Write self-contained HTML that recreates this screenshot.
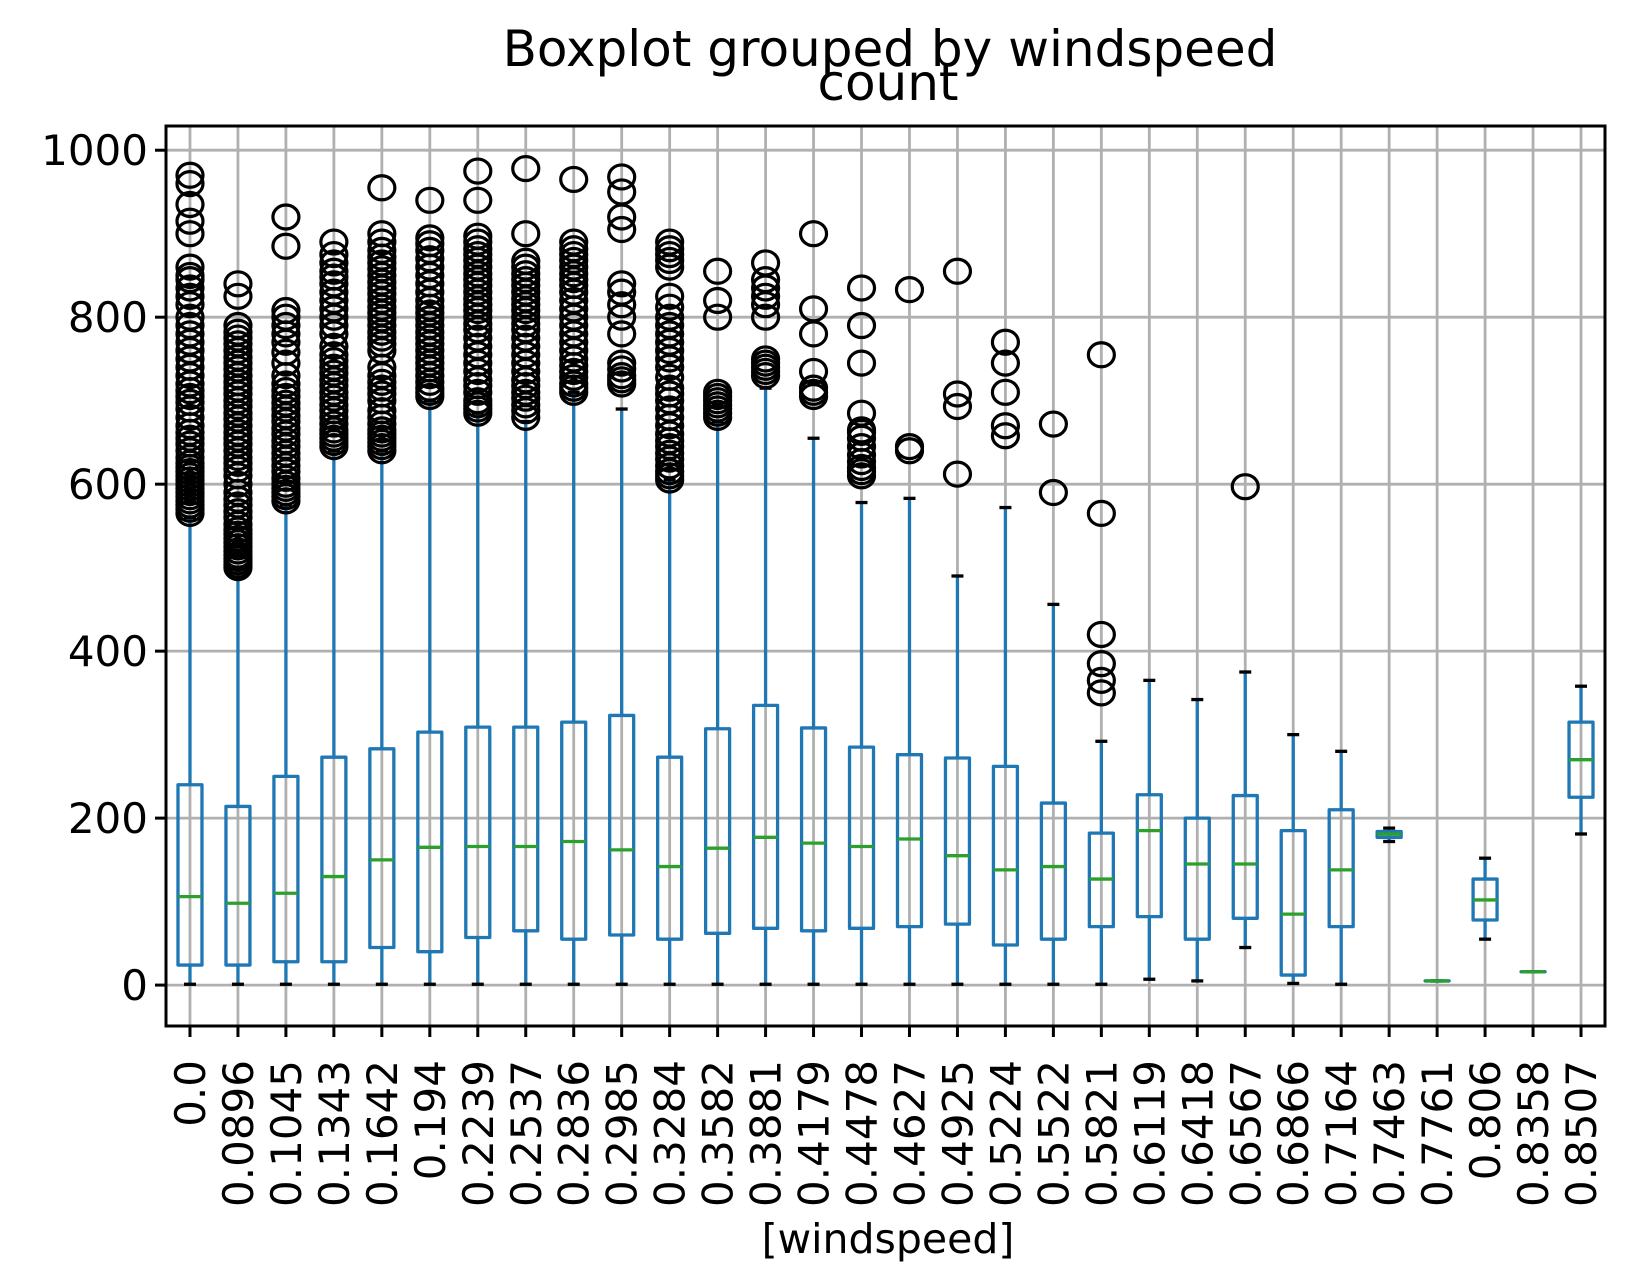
<!DOCTYPE html>
<html><head><meta charset="utf-8"><style>
html,body{margin:0;padding:0;background:#fff}
svg{display:block}
text{font-family:"DejaVu Sans","Liberation Sans",sans-serif;fill:#000}
</style></head><body>
<svg id="chart" width="1635" height="1287" viewBox="0 0 1635 1287" xmlns="http://www.w3.org/2000/svg">
<rect x="0" y="0" width="1635" height="1287" fill="#fff"/>
<g id="grid"></g>
<g id="boxes"></g>
<g id="axes"></g>
<text x="890" y="66" font-size="50" text-anchor="middle">Boxplot grouped by windspeed</text>
<text x="888" y="100" font-size="50" text-anchor="middle">count</text>
<text x="888" y="1253" font-size="41" text-anchor="middle">[windspeed]</text>
</svg>
<script>
const categories=["0.0","0.0896","0.1045","0.1343","0.1642","0.194","0.2239","0.2537","0.2836","0.2985","0.3284","0.3582","0.3881","0.4179","0.4478","0.4627","0.4925","0.5224","0.5522","0.5821","0.6119","0.6418","0.6567","0.6866","0.7164","0.7463","0.7761","0.806","0.8358","0.8507"];
const q1=[24,24,28,28,45,40,57,65,55,60,55,62,68,65,68,70,73,48,55,70,82,55,80,12,70,177,5,78,16,225];
const med=[106,98,110,130,150,165,166,166,172,162,142,164,177,170,166,175,155,138,142,127,185,145,145,85,138,181,5,102,16,270];
const q3=[240,214,250,273,283,303,309,309,315,323,273,307,335,308,285,276,272,262,218,182,228,200,227,185,210,184,5,127,16,315];
const whisLo=[1,1,1,1,1,1,1,1,1,1,1,1,1,1,1,1,1,1,1,1,7,5,45,2,1,172,5,55,16,181];
const whisHi=[560,500,575,640,640,700,685,675,710,690,605,675,715,655,578,583,490,572,456,292,365,342,375,300,280,188,5,152,16,358];
const outliers=[
[565,570,575,580,585,590,595,600,605,610,615,620,625,632,640,648,655,662,670,680,690,698,705,712,720,730,740,750,760,770,780,790,800,815,825,835,845,850,860,900,915,935,960,970],
[500,503,507,511,515,520,525,530,535,540,545,552,560,567,575,582,590,600,610,618,625,632,640,648,655,662,670,678,685,693,700,708,715,722,730,738,745,752,760,768,775,782,790,825,840],
[580,585,590,595,600,607,615,622,630,637,645,652,660,667,675,682,690,697,705,712,720,730,745,758,770,780,790,800,808,885,920],
[645,650,655,660,665,672,680,688,695,703,710,718,725,733,740,748,755,765,780,790,800,810,820,830,840,848,855,865,875,890],
[640,645,650,655,660,665,672,680,688,700,708,715,722,730,740,760,768,775,782,790,798,805,812,820,828,835,842,850,858,865,872,880,890,900,955],
[705,710,715,722,730,738,745,752,760,768,775,782,790,798,805,812,820,830,840,850,860,870,880,888,895,940],
[685,690,695,700,710,718,725,735,745,755,765,775,785,792,800,808,815,822,830,838,845,852,860,868,875,882,890,897,940,975],
[680,688,695,703,710,718,725,735,745,755,765,775,785,792,800,808,815,822,830,838,845,852,860,867,900,978],
[710,715,720,728,735,742,750,760,770,780,790,800,810,820,830,838,845,852,860,868,875,882,890,965],
[720,725,730,738,745,780,800,815,830,840,905,920,950,968],
[605,610,615,622,630,637,645,652,660,670,680,690,700,708,715,728,740,750,760,770,780,790,800,812,825,860,868,875,882,890],
[680,685,690,695,700,705,710,800,820,855],
[730,735,740,745,750,800,815,825,835,845,865],
[705,710,715,735,780,810,900],
[610,615,620,627,635,645,655,662,665,685,745,790,835],
[640,645,833],
[612,693,708,855],
[658,670,710,745,770],
[590,672],
[350,365,385,420,565,755],
[],[],[597],[],[],[],[],[],[],[]
];
const yTicks=[0,200,400,600,800,1000];

const NS="http://www.w3.org/2000/svg";
const L=166,R=1605,T=126,B=1026;
const yMin=-49,yMax=1029;
function xPos(i){return L+(i+1-0.5)*(R-L)/categories.length;}
function yPos(v){return B-(v-yMin)/(yMax-yMin)*(B-T);}
function mk(tag,attrs,parent){const e=document.createElementNS(NS,tag);for(const k in attrs)e.setAttribute(k,attrs[k]);parent.appendChild(e);return e;}
const grid=document.getElementById('grid'),boxes=document.getElementById('boxes'),axes=document.getElementById('axes');
const unit=(R-L)/categories.length;
const LW=3.3;
categories.forEach((c,i)=>{
  const g=mk('line',{x1:xPos(i),x2:xPos(i),y1:T,y2:B,stroke:'#b0b0b0','stroke-width':2.8},grid);
  
  
});
yTicks.forEach(v=>{
  const g=mk('line',{x1:L,x2:R,y1:yPos(v),y2:yPos(v),stroke:'#b0b0b0','stroke-width':2.8},grid);
  
  
});
const bw=unit*0.5,cw=unit*0.25,blue='#1f77b4';
categories.forEach((c,i)=>{
  const x=xPos(i);
  const g=mk('g',{},boxes);
  
  
  mk('line',{x1:x,x2:x,y1:yPos(q3[i]),y2:yPos(whisHi[i]),stroke:blue,'stroke-width':LW},g);
  mk('line',{x1:x,x2:x,y1:yPos(q1[i]),y2:yPos(whisLo[i]),stroke:blue,'stroke-width':LW},g);
  mk('line',{x1:x-cw/2,x2:x+cw/2,y1:yPos(whisHi[i]),y2:yPos(whisHi[i]),stroke:'#000','stroke-width':LW},g);
  mk('line',{x1:x-cw/2,x2:x+cw/2,y1:yPos(whisLo[i]),y2:yPos(whisLo[i]),stroke:'#000','stroke-width':LW},g);
  mk('rect',{x:x-bw/2,y:yPos(q3[i]),width:bw,height:Math.max(0.01,yPos(q1[i])-yPos(q3[i])),fill:'none',stroke:blue,'stroke-width':LW,'stroke-linejoin':'round'},g);
  mk('line',{x1:x-bw/2,x2:x+bw/2,y1:yPos(med[i]),y2:yPos(med[i]),stroke:'#2ca02c','stroke-width':LW},g);
  outliers[i].forEach(v=>{
    const o=mk('ellipse',{cx:x,cy:yPos(v),rx:13,ry:12,fill:'none',stroke:'#000','stroke-width':3.2},g);
    
    
  });
});
const fr=mk('rect',{x:L,y:T,width:R-L,height:B-T,fill:'none',stroke:'#000','stroke-width':3},axes);


yTicks.forEach(v=>{
  const y=yPos(v);
  const t=mk('line',{x1:L-11,x2:L,y1:y,y2:y,stroke:'#000','stroke-width':3},axes);
  
  
  const tx=mk('text',{x:L-18,y:y+15,'font-size':42,'text-anchor':'end'},axes);
  tx.textContent=v;
  
  
});
categories.forEach((c,i)=>{
  const x=xPos(i);
  const t=mk('line',{x1:x,x2:x,y1:B,y2:B+11,stroke:'#000','stroke-width':3},axes);
  
  
  const tx=mk('text',{x:0,y:0,'font-size':42,'text-anchor':'end',transform:'translate('+(x+15)+','+(B+34)+') rotate(-90)'},axes);
  tx.textContent=c;
  
  
});
</script>
</body></html>
